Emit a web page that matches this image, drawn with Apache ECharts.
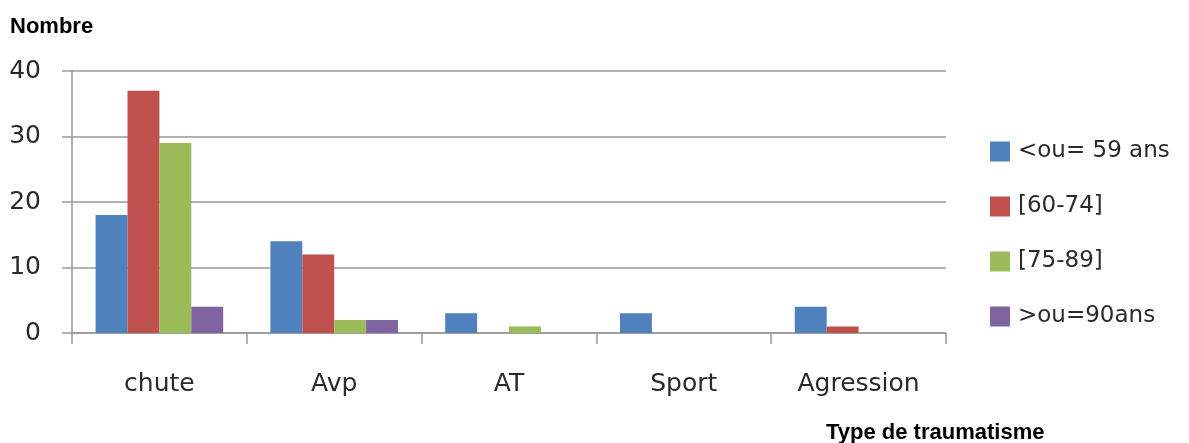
<!DOCTYPE html>
<html><head><meta charset="utf-8">
<script src="https://cdn.jsdelivr.net/npm/echarts@6/dist/echarts.min.js"></script>
<style>html,body{margin:0;padding:0;background:#fff}#c{width:1189px;height:443px}</style>
</head><body><div id="c"></div>
<script>
const categories = ['chute', 'Avp', 'AT', 'Sport', 'Agression'];
const seriesNames = ['<ou= 59 ans', '[60-74]', '[75-89]', '>ou=90ans'];
const s1 = [18, 14, 3, 3, 4];
const s2 = [37, 12, 0, 0, 1];
const s3 = [29, 2, 1, 0, 0];
const s4 = [4, 2, 0, 0, 0];
const yTicks = [0, 10, 20, 30, 40];
const colors = ['#4F81BD', '#C0504D', '#9BBB59', '#8064A2'];
const values = [s1, s2, s3, s4];

const chart = echarts.init(document.getElementById('c'));
chart.setOption({
  animation: false,
  textStyle: { fontFamily: 'DejaVu Sans' },
  graphic: [
    { type: 'text', left: 10, top: 16, style: { text: 'Nombre', font: 'bold 22px "Liberation Sans"', fill: '#000' } },
    { type: 'text', left: 826, top: 422, style: { text: 'Type de traumatisme', font: 'bold 22px "Liberation Sans"', fill: '#000' } }
  ],
  legend: {
    orient: 'vertical', left: 990, top: 140, padding: 0,
    itemWidth: 20, itemHeight: 20, itemGap: 32,
    icon: 'rect',
    textStyle: { fontSize: 23, lineHeight: 20, color: '#2a2a2a', fontFamily: 'DejaVu Sans', padding: [0, 0, 0, 3] },
    data: seriesNames
  },
  grid: { left: 72, right: 243, top: 71, bottom: 110, containLabel: false },
  xAxis: {
    type: 'category', data: categories,
    axisLine: { lineStyle: { color: '#999', width: 1.5 } },
    axisTick: { show: true, length: 11, lineStyle: { color: '#999', width: 1.5 } },
    axisLabel: { fontSize: 25, color: '#2a2a2a', margin: 39, fontFamily: 'DejaVu Sans' }
  },
  yAxis: {
    type: 'value', min: yTicks[0], max: yTicks[yTicks.length - 1], interval: 10,
    axisLine: { show: true, lineStyle: { color: '#999', width: 1.5 } },
    axisTick: { show: true, length: 10, lineStyle: { color: '#999', width: 1.5 } },
    splitLine: { lineStyle: { color: '#999', width: 1.5 } },
    axisLabel: { fontSize: 25, color: '#2a2a2a', margin: 31, fontFamily: 'DejaVu Sans' }
  },
  series: seriesNames.map((n, i) => ({
    name: n, type: 'bar', data: values[i],
    barGap: '0%', barCategoryGap: '27%',
    itemStyle: { color: colors[i] }
  }))
});
</script></body></html>
